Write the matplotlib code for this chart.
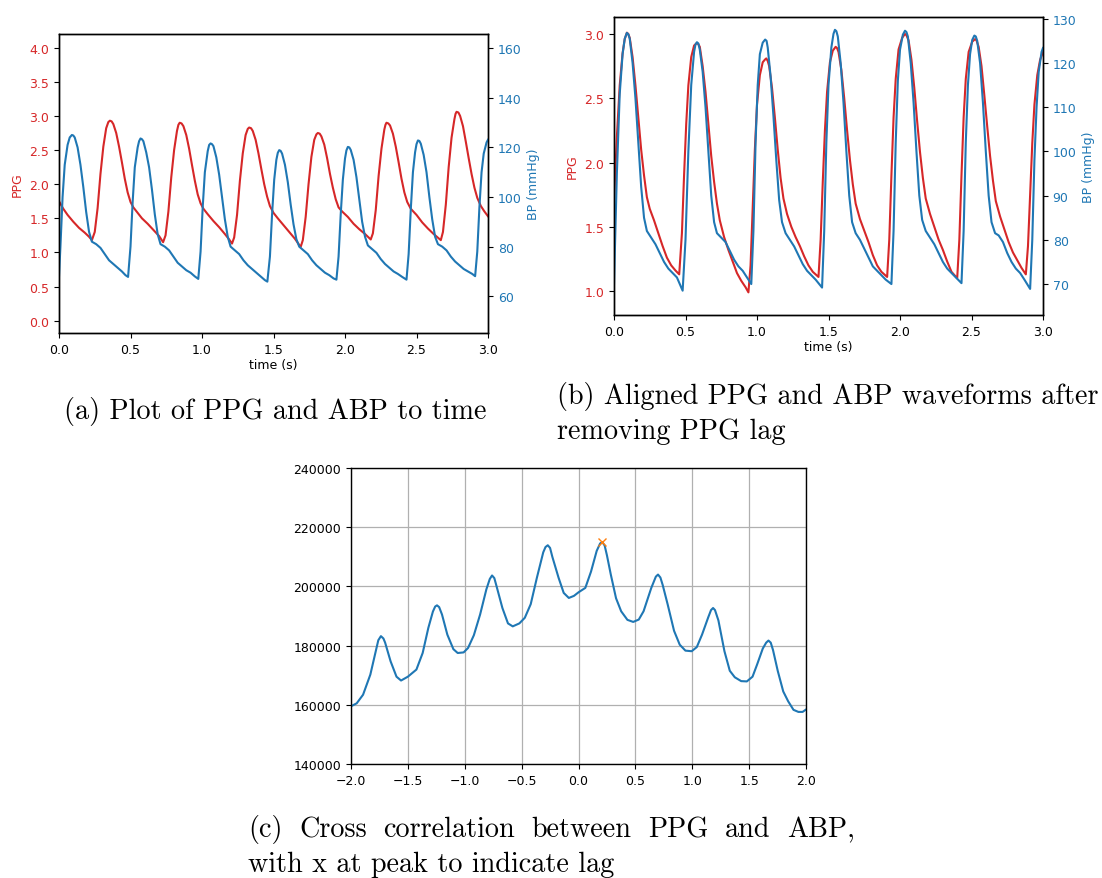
import numpy as np
import matplotlib
matplotlib.use("Agg")
import matplotlib.pyplot as plt

# (a) raw PPG and ABP against time
t_ppg_a = [0.0, 0.03, 0.06, 0.10, 0.14, 0.18, 0.21, 0.23,
           0.25, 0.27, 0.29, 0.31, 0.33, 0.345, 0.356, 0.368, 0.38, 0.40, 0.42, 0.44, 0.46, 0.48, 0.50, 0.52, 0.55, 0.58, 0.62, 0.66, 0.70, 0.728,
           0.745, 0.765, 0.785, 0.805, 0.825, 0.835, 0.844, 0.857, 0.87, 0.89, 0.91, 0.93, 0.95, 0.97, 0.99, 1.01, 1.04, 1.08, 1.12, 1.16, 1.19, 1.21,
           1.225, 1.245, 1.265, 1.285, 1.305, 1.32, 1.33, 1.343, 1.355, 1.375, 1.395, 1.415, 1.435, 1.455, 1.475, 1.50, 1.53, 1.57, 1.61, 1.65, 1.69,
           1.705, 1.725, 1.745, 1.765, 1.785, 1.80, 1.81, 1.823, 1.835, 1.855, 1.875, 1.895, 1.915, 1.935, 1.955, 1.98, 2.02, 2.06, 2.10, 2.14, 2.18,
           2.195, 2.215, 2.235, 2.255, 2.275, 2.283, 2.29, 2.303, 2.315, 2.335, 2.355, 2.375, 2.395, 2.415, 2.435, 2.46, 2.50, 2.54, 2.58, 2.62, 2.67,
           2.685, 2.705, 2.725, 2.745, 2.765, 2.773, 2.78, 2.793, 2.805, 2.825, 2.845, 2.865, 2.885, 2.905, 2.925, 2.95, 2.975, 3.0]
ppg_a = [1.75, 1.64, 1.55, 1.45, 1.36, 1.29, 1.23, 1.18,
         1.30, 1.65, 2.15, 2.55, 2.82, 2.91, 2.93, 2.92, 2.88, 2.75, 2.55, 2.32, 2.08, 1.88, 1.74, 1.66, 1.58, 1.50, 1.42, 1.33, 1.24, 1.15,
         1.25, 1.60, 2.10, 2.50, 2.78, 2.87, 2.90, 2.89, 2.85, 2.72, 2.52, 2.28, 2.05, 1.85, 1.72, 1.64, 1.56, 1.46, 1.37, 1.27, 1.19, 1.13,
         1.22, 1.55, 2.05, 2.45, 2.72, 2.81, 2.83, 2.82, 2.78, 2.65, 2.45, 2.22, 2.00, 1.82, 1.68, 1.58, 1.50, 1.40, 1.30, 1.20, 1.08,
         1.18, 1.52, 2.00, 2.40, 2.65, 2.73, 2.75, 2.74, 2.70, 2.58, 2.38, 2.15, 1.95, 1.78, 1.66, 1.60, 1.52, 1.42, 1.34, 1.27, 1.19,
         1.28, 1.62, 2.12, 2.52, 2.80, 2.87, 2.90, 2.89, 2.86, 2.74, 2.55, 2.32, 2.08, 1.88, 1.74, 1.64, 1.55, 1.44, 1.35, 1.27, 1.18,
         1.30, 1.70, 2.25, 2.68, 2.95, 3.03, 3.06, 3.05, 3.00, 2.85, 2.62, 2.38, 2.15, 1.95, 1.80, 1.68, 1.60, 1.53]

t_bp_a = [0.0, 0.01, 0.025, 0.04, 0.06, 0.075, 0.09, 0.10, 0.11, 0.13, 0.15, 0.17, 0.19, 0.21, 0.23, 0.26, 0.29, 0.32, 0.35, 0.38, 0.41, 0.44, 0.465, 0.483,
          0.50, 0.515, 0.53, 0.55, 0.56, 0.57, 0.58, 0.59, 0.61, 0.63, 0.65, 0.67, 0.69, 0.71, 0.74, 0.77, 0.80, 0.83, 0.86, 0.89, 0.92, 0.95, 0.974,
          0.99, 1.005, 1.02, 1.04, 1.05, 1.06, 1.07, 1.08, 1.10, 1.12, 1.14, 1.16, 1.18, 1.20, 1.23, 1.26, 1.29, 1.32, 1.35, 1.38, 1.41, 1.44, 1.457,
          1.475, 1.49, 1.505, 1.52, 1.53, 1.54, 1.55, 1.56, 1.58, 1.60, 1.62, 1.64, 1.66, 1.68, 1.71, 1.74, 1.77, 1.80, 1.83, 1.86, 1.89, 1.92, 1.94,
          1.955, 1.97, 1.985, 2.0, 2.01, 2.02, 2.03, 2.04, 2.06, 2.08, 2.10, 2.12, 2.14, 2.16, 2.19, 2.22, 2.25, 2.28, 2.31, 2.34, 2.37, 2.40, 2.43,
          2.445, 2.46, 2.475, 2.49, 2.50, 2.51, 2.52, 2.53, 2.55, 2.57, 2.59, 2.61, 2.63, 2.65, 2.68, 2.71, 2.74, 2.77, 2.80, 2.83, 2.86, 2.89, 2.91,
          2.925, 2.94, 2.955, 2.97, 2.99, 3.0]
bp_a = [68, 80, 100, 113, 121, 124, 125, 124.8, 124, 120, 113, 104, 94, 86, 82, 81, 79.5, 77, 74.5, 73, 71.5, 70, 68.5, 67.8,
        80, 98, 112, 120, 122.5, 123.6, 123.3, 122.5, 118, 112, 103, 93, 85, 81, 80, 78.5, 76, 73.5, 72, 70.5, 69.5, 68, 67.0,
        78, 96, 110, 118.5, 121, 121.6, 121.3, 120.5, 116, 109, 100, 91, 84, 80, 78.5, 77, 74.5, 72.5, 71, 69.5, 68, 66.5, 65.9,
        76, 93, 107, 115, 117.8, 118.9, 118.6, 117.5, 113, 106, 97, 89, 83, 80, 78.5, 77, 74.5, 72.5, 71, 69.5, 68.5, 67.2, 66.7,
        76, 93, 107, 115.5, 118.8, 120.2, 120, 119, 115, 108, 99, 90, 84, 80.5, 79, 77.5, 75, 73, 71.5, 70, 69, 67.8, 66.7,
        77, 95, 110, 118, 121.3, 122.8, 122.6, 121.5, 117, 110, 100, 91, 84, 81, 80, 78.5, 76, 74, 72.5, 71, 70, 69, 68.1,
        78, 96, 110, 117.5, 122, 123.1]

# (b) after removing the PPG lag
t_ppg_b = [0.0, 0.02, 0.04, 0.06, 0.075, 0.09, 0.10, 0.11, 0.13, 0.15, 0.17, 0.19, 0.21, 0.23, 0.25, 0.28, 0.31, 0.34, 0.37, 0.40, 0.43, 0.456,
           0.475, 0.49, 0.505, 0.52, 0.54, 0.56, 0.58, 0.59, 0.60, 0.62, 0.64, 0.66, 0.68, 0.70, 0.72, 0.74, 0.77, 0.80, 0.83, 0.86, 0.89, 0.92, 0.94,
           0.955, 0.97, 0.985, 1.0, 1.02, 1.04, 1.055, 1.065, 1.075, 1.085, 1.105, 1.125, 1.145, 1.165, 1.185, 1.21, 1.24, 1.27, 1.30, 1.33, 1.36, 1.39, 1.43,
           1.445, 1.46, 1.475, 1.49, 1.51, 1.53, 1.55, 1.56, 1.57, 1.59, 1.61, 1.63, 1.65, 1.67, 1.69, 1.72, 1.75, 1.78, 1.81, 1.84, 1.87, 1.91,
           1.925, 1.94, 1.955, 1.97, 1.99, 2.015, 2.035, 2.045, 2.06, 2.08, 2.10, 2.12, 2.14, 2.16, 2.18, 2.21, 2.24, 2.27, 2.30, 2.33, 2.36, 2.40,
           2.415, 2.43, 2.445, 2.46, 2.48, 2.505, 2.525, 2.535, 2.55, 2.57, 2.59, 2.61, 2.63, 2.65, 2.67, 2.70, 2.73, 2.76, 2.79, 2.82, 2.85, 2.88,
           2.895, 2.91, 2.925, 2.94, 2.96, 2.98, 3.0]
ppg_b = [1.70, 2.20, 2.60, 2.85, 2.96, 3.01, 3.00, 2.97, 2.82, 2.60, 2.35, 2.10, 1.90, 1.73, 1.64, 1.55, 1.45, 1.35, 1.26, 1.20, 1.16, 1.13,
         1.45, 1.90, 2.30, 2.60, 2.82, 2.91, 2.93, 2.92, 2.90, 2.75, 2.55, 2.30, 2.05, 1.85, 1.68, 1.55, 1.42, 1.32, 1.23, 1.14, 1.08, 1.03, 0.99,
         1.20, 1.65, 2.10, 2.45, 2.68, 2.78, 2.80, 2.81, 2.79, 2.75, 2.58, 2.35, 2.10, 1.88, 1.72, 1.60, 1.50, 1.42, 1.35, 1.27, 1.20, 1.15, 1.11,
         1.40, 1.85, 2.25, 2.55, 2.78, 2.87, 2.90, 2.89, 2.86, 2.72, 2.50, 2.25, 2.02, 1.83, 1.68, 1.56, 1.47, 1.38, 1.28, 1.20, 1.15, 1.11,
         1.40, 1.90, 2.35, 2.65, 2.88, 2.97, 3.00, 2.99, 2.95, 2.80, 2.58, 2.32, 2.08, 1.88, 1.72, 1.60, 1.50, 1.40, 1.32, 1.23, 1.15, 1.10,
         1.40, 1.90, 2.35, 2.65, 2.86, 2.94, 2.96, 2.95, 2.90, 2.75, 2.52, 2.28, 2.05, 1.86, 1.70, 1.58, 1.48, 1.38, 1.30, 1.24, 1.18, 1.13,
         1.35, 1.75, 2.15, 2.45, 2.68, 2.80, 2.86]

t_bp_b = [0.0, 0.02, 0.04, 0.06, 0.075, 0.09, 0.10, 0.11, 0.13, 0.15, 0.17, 0.19, 0.21, 0.23, 0.26, 0.29, 0.32, 0.35, 0.38, 0.41, 0.44, 0.46, 0.48,
          0.50, 0.52, 0.54, 0.56, 0.57, 0.58, 0.59, 0.60, 0.62, 0.64, 0.66, 0.68, 0.70, 0.72, 0.75, 0.78, 0.81, 0.84, 0.87, 0.90, 0.93, 0.96,
          0.975, 0.99, 1.005, 1.02, 1.04, 1.057, 1.067, 1.075, 1.095, 1.115, 1.135, 1.155, 1.175, 1.20, 1.23, 1.26, 1.29, 1.32, 1.35, 1.38, 1.41, 1.435, 1.455,
          1.47, 1.485, 1.50, 1.52, 1.535, 1.545, 1.555, 1.565, 1.585, 1.605, 1.625, 1.645, 1.665, 1.69, 1.72, 1.75, 1.78, 1.81, 1.84, 1.87, 1.90, 1.94,
          1.955, 1.97, 1.985, 2.0, 2.02, 2.035, 2.045, 2.055, 2.075, 2.095, 2.115, 2.135, 2.155, 2.18, 2.21, 2.24, 2.27, 2.30, 2.33, 2.36, 2.39, 2.43,
          2.445, 2.46, 2.475, 2.49, 2.505, 2.52, 2.53, 2.54, 2.56, 2.58, 2.60, 2.62, 2.64, 2.665, 2.69, 2.72, 2.75, 2.78, 2.81, 2.84, 2.87, 2.91,
          2.925, 2.94, 2.955, 2.97, 2.99, 3.0]
bp_b = [70, 95, 113, 122, 125.5, 126.8, 126.5, 125.5, 120, 112, 102, 92, 85, 82, 80.5, 79, 77, 75, 73.5, 72.5, 71.5, 70, 68.5,
        80, 100, 115, 122.5, 124.2, 124.7, 124.4, 123, 118, 110, 100, 90, 84, 81.5, 80.5, 79.5, 77.5, 75.5, 74, 73, 71.5, 70,
        82, 102, 115, 122, 124.6, 125.3, 125, 123.5, 117, 108, 98, 89, 84, 81.5, 80, 78.5, 76.5, 74.5, 73, 72, 71, 70, 69.2,
        82, 102, 115, 123.5, 126.6, 127.5, 127.2, 126, 120, 111, 100, 90, 84, 81.5, 80, 78, 76, 74, 73, 72, 71, 70,
        82, 102, 116, 123, 126.4, 127.3, 127, 126, 120, 111, 100, 90, 84.5, 82, 80.5, 79, 77, 75, 73.5, 72.5, 71.5, 70.2,
        82, 102, 115, 122, 125.2, 126.2, 126, 125, 120, 111, 100, 90, 84, 81.5, 81, 79.5, 77, 75, 73.5, 72.5, 71, 68.9,
        80, 98, 110, 118, 122.5, 123.4]

# (c) cross correlation against lag (s)
lag = [-2.0, -1.95, -1.894, -1.83, -1.78, -1.76, -1.737, -1.715, -1.70, -1.652, -1.60, -1.56, -1.50, -1.425, -1.37, -1.32, -1.28, -1.26, -1.244,
       -1.225, -1.20, -1.153, -1.10, -1.062, -1.01, -0.971, -0.92, -0.865, -0.81, -0.78, -0.76, -0.74, -0.72, -0.669, -0.62, -0.578, -0.52, -0.472,
       -0.42, -0.366, -0.31, -0.29, -0.27, -0.25, -0.23, -0.175, -0.13, -0.085, -0.04, 0.0, 0.06, 0.11, 0.16, 0.19, 0.209, 0.23, 0.25, 0.284, 0.33, 0.375,
       0.43, 0.481, 0.53, 0.572, 0.64, 0.68, 0.699, 0.72, 0.74, 0.784, 0.84, 0.89, 0.94, 0.995, 1.04, 1.086, 1.14, 1.165, 1.183, 1.20, 1.23, 1.283, 1.33,
       1.374, 1.43, 1.48, 1.53, 1.57, 1.62, 1.65, 1.67, 1.69, 1.71, 1.752, 1.80, 1.843, 1.89, 1.933, 1.97, 2.0]
xcorr = [159500, 160500, 163400, 170200, 178500, 181800, 183200, 182400, 181000, 174700, 169500, 168200, 169500, 171900, 177500, 186000, 191500, 193200, 193600,
         193000, 190500, 183700, 178800, 177500, 177700, 179200, 183500, 190500, 199000, 202500, 203700, 202800, 200000, 192700, 187500, 186500, 187500, 189400,
         194000, 202900, 211500, 213300, 213900, 213000, 210000, 202900, 197800, 196100, 196800, 198000, 199500, 205000, 212000, 214500, 215000, 213800, 210500, 204000, 196000, 191600,
         188700, 188000, 188800, 191600, 199500, 203300, 204000, 203000, 200500, 193900, 185000, 180300, 178300, 178100, 179500, 183700, 189500, 192000, 192700, 192000, 188500, 178100, 171500,
         169300, 168000, 167900, 169500, 173600, 179000, 181000, 181700, 181000, 178500, 171400, 164500, 161200, 158300, 157600, 157600, 158400]
peak_lag = 0.21
peak_val = 215000

plt.rcParams['font.family'] = 'DejaVu Sans'
plt.rcParams['font.size'] = 9.0
plt.rcParams['axes.linewidth'] = 1.0

red = 'tab:red'
blue = 'tab:blue'
lw = 1.5

fig = plt.figure(figsize=(11.02, 8.79), dpi=100)
W, H = 1102, 879


def px_axes(l, t, r, b):
    return fig.add_axes([l / W, 1 - b / H, (r - l) / W, (b - t) / H])


def twin_plot(ax, t1, y1, t2, y2, ylim1, ylim2, yticks1, yticks2):
    ax.plot(t1, y1, color=red, lw=lw)
    ax.set_ylabel('PPG', color=red)
    ax.tick_params(axis='y', labelcolor=red)
    ax.set_xlim(0, 3)
    ax.set_ylim(*ylim1)
    ax.set_yticks(yticks1)
    ax.set_xticks(np.arange(0, 3.01, 0.5))
    ax.set_xlabel('time (s)', labelpad=2)
    ax2 = ax.twinx()
    ax2.plot(t2, y2, color=blue, lw=lw)
    ax2.set_ylabel('BP (mmHg)', color=blue)
    ax2.tick_params(axis='y', labelcolor=blue)
    ax2.set_ylim(*ylim2)
    ax2.set_yticks(yticks2)
    return ax2


ax_a = px_axes(59, 35, 488, 334)
twin_plot(ax_a, t_ppg_a, ppg_a, t_bp_a, bp_a, (-0.18, 4.2), (45.2, 165.7),
          np.arange(0, 4.01, 0.5), np.arange(60, 161, 20))

ax_b = px_axes(614, 18, 1043, 316)
twin_plot(ax_b, t_ppg_b, ppg_b, t_bp_b, bp_b, (0.814, 3.132), (63.0, 130.4),
          np.arange(1.0, 3.01, 0.5), np.arange(70, 131, 10))

ax_c = px_axes(351, 469, 806, 765)
ax_c.plot(lag, xcorr, color=blue, lw=lw)
ax_c.plot([peak_lag], [peak_val], 'x', color='tab:orange', ms=6)
ax_c.set_xlim(-2, 2)
ax_c.set_ylim(140000, 240000)
ax_c.set_xticks(np.arange(-2, 2.01, 0.5))
ax_c.set_yticks(np.arange(140000, 240001, 20000))
ax_c.grid(True, color='#b0b0b0', lw=0.9)

# captions
cap = dict(family='cmr10', fontsize=20.3, va='center')
fig.text(275 / W, 1 - 412 / H, '(a) Plot of PPG and ABP to time', ha='center', **cap)
fig.text(557 / W, 1 - 397 / H, '(b) Aligned PPG and ABP waveforms after', ha='left', **cap)
fig.text(557 / W, 1 - 432 / H, 'removing PPG lag', ha='left', **cap)


def justify(words, x0, x1, y):
    # spread words over [x0, x1] like a justified LaTeX line
    r = fig.canvas.get_renderer()
    arts = [fig.text(0, 1 - y / H, w, ha='left', **cap) for w in words]
    widths = [a.get_window_extent(r).width for a in arts]
    gap = (x1 - x0 - sum(widths)) / (len(words) - 1)
    x = x0
    for a, w in zip(arts, widths):
        a.set_x(x / W)
        x += w + gap


justify(['(c)', 'Cross', 'correlation', 'between', 'PPG', 'and', 'ABP,'], 248, 855, 830)
fig.text(248 / W, 1 - 865 / H, 'with x at peak to indicate lag', ha='left', **cap)

fig.savefig('out.png', dpi=100)
